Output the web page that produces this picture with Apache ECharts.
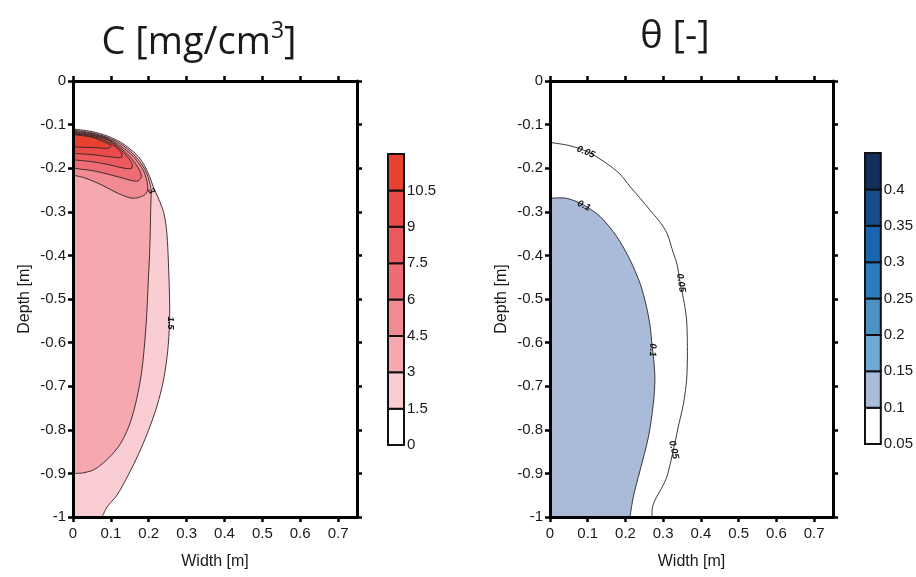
<!DOCTYPE html>
<html>
<head>
<meta charset="utf-8">
<script src="https://cdn.jsdelivr.net/npm/echarts@6/dist/echarts.min.js"></script>
<style>
  html, body { margin: 0; padding: 0; background: #fff; }
  #chart { width: 916px; height: 577px; }
</style>
</head>
<body>
<div id="chart"></div>
<script>
// ---- axis ticks ----
const widthTicks = [0, 0.1, 0.2, 0.3, 0.4, 0.5, 0.6, 0.7];
const depthTicks = [-1, -0.9, -0.8, -0.7, -0.6, -0.5, -0.4, -0.3, -0.2, -0.1, 0];

// ---- colour scales (level boundaries and the fill of each band) ----
const concLevels = [0, 1.5, 3, 4.5, 6, 7.5, 9, 10.5, 12];
const concColors = ['#ffffff', '#f9cdd2', '#f5a8b0', '#f08a93', '#ee6d75', '#ec5a5e', '#ea4b4a', '#e9412f'];
const thetaLevels = [0.05, 0.1, 0.15, 0.2, 0.25, 0.3, 0.35, 0.4, 0.45];
const thetaColors = ['#ffffff', '#a9bbd8', '#6ea8d4', '#4c93c4', '#2c7dbe', '#1a66ae', '#164c8b', '#13305c'];

// ---- concentration contours [width, depth], upper edge crossing -> around -> lower crossing ----
const concLine15 = [[0, -0.110], [0.05, -0.116], [0.09, -0.126], [0.125, -0.140], [0.151, -0.156], [0.175, -0.176],
  [0.19, -0.196], [0.203, -0.220], [0.212, -0.243], [0.225, -0.268], [0.24, -0.303], [0.248, -0.350], [0.252, -0.417],
  [0.255, -0.500], [0.255, -0.555], [0.25, -0.620], [0.239, -0.686], [0.222, -0.745], [0.2, -0.800], [0.175, -0.852],
  [0.147, -0.902], [0.116, -0.950], [0.09, -0.977], [0.077, -1.0]];
const concLine3 = [[0, -0.113], [0.05, -0.119], [0.09, -0.129], [0.125, -0.144], [0.15, -0.160], [0.172, -0.180],
  [0.188, -0.200], [0.2, -0.225], [0.206, -0.250], [0.205, -0.300], [0.203, -0.380], [0.199, -0.456], [0.193, -0.560],
  [0.182, -0.663], [0.168, -0.730], [0.151, -0.784], [0.13, -0.825], [0.107, -0.853], [0.08, -0.876], [0.054, -0.892],
  [0.025, -0.899], [0, -0.900]];
const concLine45 = [[0, -0.115], [0.05, -0.121], [0.09, -0.131], [0.12, -0.146], [0.147, -0.163], [0.168, -0.182],
  [0.185, -0.204], [0.195, -0.228], [0.197, -0.250], [0.188, -0.262], [0.158, -0.269], [0.12, -0.258], [0.07, -0.236],
  [0.03, -0.222], [0, -0.216]];
const concLine6 = [[0, -0.117], [0.05, -0.123], [0.09, -0.133], [0.117, -0.148], [0.142, -0.166], [0.162, -0.186],
  [0.177, -0.207], [0.18, -0.222], [0.168, -0.230], [0.12, -0.220], [0.06, -0.207], [0, -0.200]];
const concLine75 = [[0, -0.119], [0.05, -0.125], [0.09, -0.135], [0.115, -0.150], [0.138, -0.168], [0.155, -0.188],
  [0.155, -0.200], [0.135, -0.200], [0.1, -0.193], [0.05, -0.185], [0, -0.181]];
const concLine9 = [[0, -0.121], [0.05, -0.127], [0.085, -0.137], [0.11, -0.150], [0.128, -0.165], [0.128, -0.175],
  [0.1, -0.174], [0.05, -0.169], [0, -0.166]];
const concLine105 = [[0, -0.123], [0.05, -0.129], [0.08, -0.139], [0.1, -0.148], [0.095, -0.154], [0.06, -0.153],
  [0.03, -0.152], [0, -0.151]];
const concContourLevels = [1.5, 3, 4.5, 6, 7.5, 9, 10.5];
const concContours = [concLine15, concLine3, concLine45, concLine6, concLine75, concLine9, concLine105];
const concLabels = [[0.206, -0.252, '3'], [0.257, -0.555, '1.5']];

// ---- water content contours ----
const thetaLine005 = [[0, -0.141], [0.045, -0.147], [0.088, -0.158], [0.12, -0.172], [0.15, -0.189], [0.185, -0.213],
  [0.212, -0.242], [0.24, -0.270], [0.265, -0.296], [0.29, -0.322], [0.31, -0.349], [0.327, -0.395], [0.336, -0.418],
  [0.345, -0.463], [0.356, -0.510], [0.362, -0.548], [0.364, -0.600], [0.364, -0.640], [0.362, -0.686], [0.354, -0.739],
  [0.34, -0.793], [0.327, -0.846], [0.31, -0.907], [0.295, -0.935], [0.283, -0.953], [0.272, -0.976], [0.27, -1.0]];
const thetaLine01 = [[0, -0.269], [0.044, -0.269], [0.088, -0.284], [0.133, -0.311], [0.177, -0.357], [0.212, -0.410],
  [0.239, -0.465], [0.255, -0.515], [0.265, -0.560], [0.27, -0.602], [0.276, -0.650], [0.278, -0.686], [0.274, -0.739],
  [0.261, -0.816], [0.239, -0.892], [0.221, -0.953], [0.212, -1.0]];
const thetaContourLevels = [0.05, 0.1];
const thetaContours = [thetaLine005, thetaLine01];
const thetaLabels = [[0.095, -0.163, '0.05'], [0.09, -0.286, '0.1'], [0.347, -0.463, '0.05'], [0.272, -0.617, '0.1'], [0.328, -0.846, '0.05']];

// label orientation (degrees, counter-clockwise) for the inline contour labels
const concLabelAngles = [-60, -90];
const thetaLabelAngles = [-22, -25, -82, -92, -78];

const FONT = '"Liberation Sans", Arial, sans-serif';

function bandColor(levels, colors, level) {
  const i = levels.findIndex(v => Math.abs(v - level) < 1e-9);
  return colors[i];
}

// close a contour through points just outside the plotting area so the fill hugs the axes
function closeRing(line) {
  const first = line[0], last = line[line.length - 1];
  const ring = line.slice();
  if (last[1] <= -1 + 1e-9) {
    ring.push([last[0], -1.06]);
    ring.push([-0.06, -1.06]);
  } else {
    ring.push([-0.06, last[1]]);
  }
  ring.push([-0.06, first[1]]);
  return ring;
}

function contourSeries(gridIdx, lines, levels, fillLevels, fillColors) {
  return {
    type: 'custom',
    xAxisIndex: gridIdx * 2,
    yAxisIndex: gridIdx * 2,
    clip: true,
    silent: true,
    z: 2,
    data: lines.map((_, i) => [i]),
    renderItem: function (params, api) {
      const i = params.dataIndex;
      const line = lines[i];
      const fill = bandColor(fillLevels, fillColors, levels[i]);
      const ringPts = closeRing(line).map(p => api.coord(p));
      const linePts = line.map(p => api.coord(p));
      return {
        type: 'group',
        children: [
          { type: 'polygon', shape: { points: ringPts, smooth: 0.3 }, style: { fill: fill, stroke: null } },
          { type: 'polyline', shape: { points: linePts, smooth: 0.3 }, style: { fill: null, stroke: '#2b2222', lineWidth: 0.9 } }
        ]
      };
    }
  };
}

function labelSeries(gridIdx, labels, angles) {
  return {
    type: 'custom',
    xAxisIndex: gridIdx * 2,
    yAxisIndex: gridIdx * 2,
    silent: true,
    z: 3,
    data: labels.map(l => [l[0], l[1]]),
    renderItem: function (params, api) {
      const i = params.dataIndex;
      const p = api.coord([api.value(0), api.value(1)]);
      return {
        type: 'text',
        x: p[0], y: p[1],
        rotation: angles[i] * Math.PI / 180,
        style: {
          text: labels[i][2], fill: '#111', font: 'bold italic 9.5px ' + FONT,
          align: 'center', verticalAlign: 'middle'
        }
      };
    }
  };
}

function colorbarSeries(levels, colors) {
  const data = [];
  for (let i = 0; i < colors.length; i++) data.push([levels[i], levels[i + 1]]);
  return {
    type: 'custom',
    silent: true,
    data: data,
    renderItem: function (params, api) {
      const lo = api.value(0), hi = api.value(1);
      const a = api.coord([0, hi]);
      const b = api.coord([1, lo]);
      return {
        type: 'rect',
        shape: { x: a[0], y: a[1], width: b[0] - a[0], height: b[1] - a[1] },
        style: { fill: colors[params.dataIndex], stroke: '#111', lineWidth: 2 }
      };
    }
  };
}

const lineStyle = { color: '#000', width: 3 };
const tickStyle = { color: '#000', width: 2.5 };

function plotAxes(gridIdx) {
  const xs = [
    {
      gridIndex: gridIdx, type: 'value', min: 0, max: 0.75, position: 'bottom', z: 10,
      axisLine: { show: true, onZero: false, lineStyle: lineStyle },
      axisTick: { show: true, customValues: widthTicks, length: 5, lineStyle: tickStyle },
      axisLabel: { customValues: widthTicks, fontSize: 15, color: '#1a1a1a', margin: 9, fontFamily: FONT },
      splitLine: { show: false },
      name: 'Width [m]', nameLocation: 'middle', nameGap: 37,
      nameTextStyle: { fontSize: 16, color: '#1a1a1a', fontFamily: FONT }
    },
    {
      gridIndex: gridIdx, type: 'value', min: 0, max: 0.75, position: 'top', z: 10,
      axisLine: { show: true, onZero: false, lineStyle: lineStyle },
      axisTick: { show: true, customValues: widthTicks, length: 5, lineStyle: tickStyle },
      axisLabel: { show: false },
      splitLine: { show: false }
    }
  ];
  const ys = [
    {
      gridIndex: gridIdx, type: 'value', min: -1, max: 0, position: 'left', z: 10,
      axisLine: { show: true, onZero: false, lineStyle: lineStyle },
      axisTick: { show: true, customValues: depthTicks, length: 5, lineStyle: tickStyle },
      axisLabel: { customValues: depthTicks, fontSize: 15, color: '#1a1a1a', margin: 7, fontFamily: FONT },
      splitLine: { show: false },
      name: 'Depth [m]', nameLocation: 'middle', nameGap: 40, nameRotate: 90,
      nameTextStyle: { fontSize: 16, color: '#1a1a1a', fontFamily: FONT }
    },
    {
      gridIndex: gridIdx, type: 'value', min: -1, max: 0, position: 'right', z: 10,
      axisLine: { show: true, onZero: false, lineStyle: lineStyle },
      axisTick: { show: true, customValues: depthTicks, length: 5, lineStyle: tickStyle },
      axisLabel: { show: false },
      splitLine: { show: false }
    }
  ];
  return { xs, ys };
}

function colorbarAxes(gridIdx, levels) {
  const labels = levels.slice(0, levels.length - 1);
  return {
    x: { gridIndex: gridIdx, type: 'value', min: 0, max: 1, show: false },
    y: {
      gridIndex: gridIdx, type: 'value', min: levels[0], max: levels[levels.length - 1], position: 'right',
      axisLine: { show: false }, axisTick: { show: false }, splitLine: { show: false },
      axisLabel: {
        customValues: labels, fontSize: 15, color: '#1a1a1a', margin: 3, fontFamily: FONT,
        formatter: v => String(+v.toFixed(2))
      }
    }
  };
}

const left = plotAxes(0);
const right = plotAxes(1);
const cbC = colorbarAxes(2, concLevels);
const cbT = colorbarAxes(3, thetaLevels);

const chart = echarts.init(document.getElementById('chart'), null, { renderer: 'canvas' });
chart.setOption({
  animation: false,
  backgroundColor: '#fff',
  grid: [
    { left: 73, top: 81, width: 284, height: 436 },
    { left: 550, top: 81, width: 283, height: 436 },
    { left: 388, top: 154, width: 16, height: 291 },
    { left: 865, top: 153, width: 16, height: 291 }
  ],
  xAxis: [left.xs[0], left.xs[1], right.xs[0], right.xs[1], cbC.x, cbT.x],
  yAxis: [left.ys[0], left.ys[1], right.ys[0], right.ys[1], cbC.y, cbT.y],
  graphic: [
    {
      type: 'text', x: 199, y: 20,
      style: {
        text: '{m|C [mg/cm}{s|3}{m|]}', align: 'center', verticalAlign: 'top',
        rich: {
          m: { fontSize: 38, fontFamily: '"Open Sans", sans-serif', fill: '#1a1a1a', lineHeight: 46 },
          s: { fontSize: 23, fontFamily: '"Open Sans", sans-serif', fill: '#1a1a1a', verticalAlign: 'top', lineHeight: 30 }
        }
      }
    },
    {
      type: 'text', x: 675, y: 18,
      style: {
        text: 'θ [-]', align: 'center', verticalAlign: 'top',
        font: '38px "Open Sans", sans-serif', fill: '#1a1a1a'
      }
    }
  ],
  series: [
    contourSeries(0, concContours, concContourLevels, concLevels, concColors),
    labelSeries(0, concLabels, concLabelAngles),
    contourSeries(1, thetaContours, thetaContourLevels, thetaLevels, thetaColors),
    labelSeries(1, thetaLabels, thetaLabelAngles),
    Object.assign(colorbarSeries(concLevels, concColors), { xAxisIndex: 4, yAxisIndex: 4 }),
    Object.assign(colorbarSeries(thetaLevels, thetaColors), { xAxisIndex: 5, yAxisIndex: 5 })
  ]
});
</script>
</body>
</html>
